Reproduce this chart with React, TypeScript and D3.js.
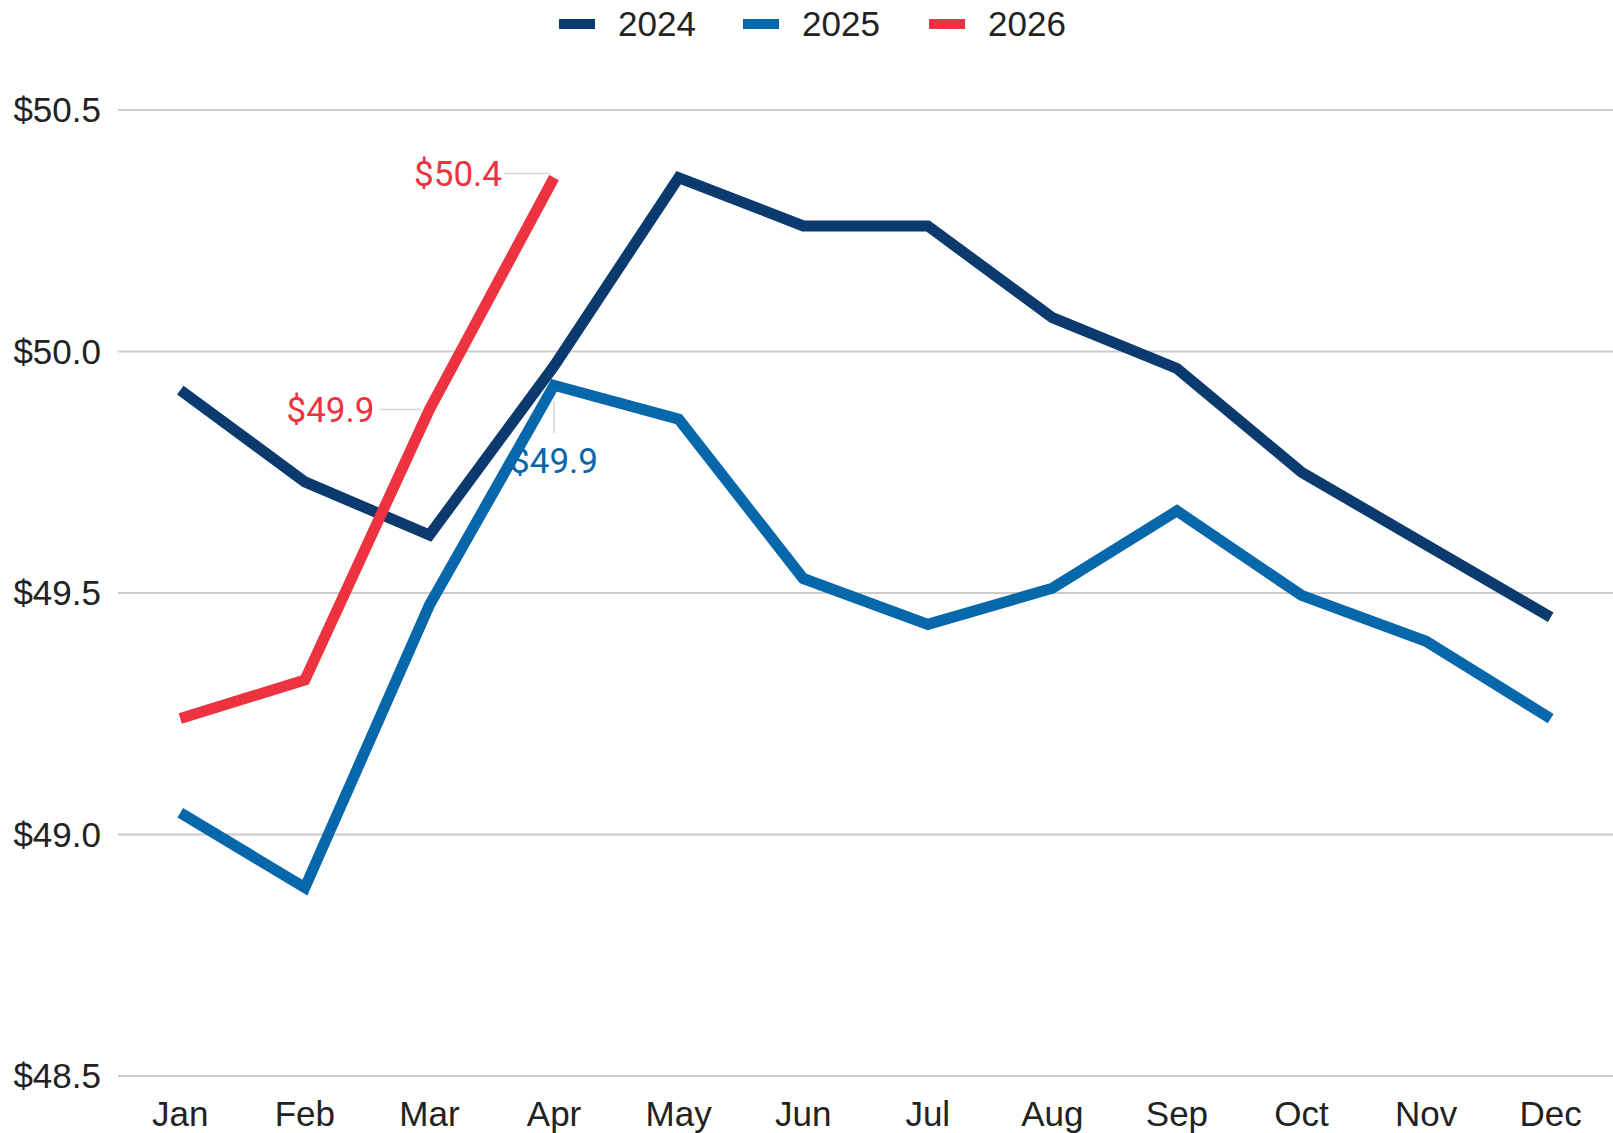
import React from "react";
import * as d3 from "d3";

const months = ["Jan", "Feb", "Mar", "Apr", "May", "Jun", "Jul", "Aug", "Sep", "Oct", "Nov", "Dec"];
const v2024 = [49.92, 49.73, 49.62, 49.97, 50.36, 50.26, 50.26, 50.07, 49.965, 49.75, 49.6, 49.45];
const v2025 = [49.045, 48.89, 49.475, 49.93, 49.86, 49.53, 49.435, 49.51, 49.67, 49.495, 49.4, 49.24];
const v2026 = [49.24, 49.32, 49.88, 50.36];
const yTicks = [48.5, 49.0, 49.5, 50.0, 50.5];
const seriesNames = ["2024", "2025", "2026"];
const seriesColors = ["#0a3a6e", "#0767ab", "#ee3340"];

const W = 1613;
const H = 1133;

export default function App() {
  const x = d3.scalePoint<string>().domain(months).range([118, 1613]).padding(0.5);
  const y = d3.scaleLinear().domain([48.5, 50.5]).range([1076, 110]);
  const line = d3
    .line<number>()
    .x((_, i) => x(months[i]) as number)
    .y((d) => y(d));
  const series = [v2024, v2025, v2026];

  const legendX = [559, 743, 929];

  const p26Apr = { x: x("Apr") as number, y: y(v2026[3]) };
  const p26Mar = { x: x("Mar") as number, y: y(v2026[2]) };
  const p25Apr = { x: x("Apr") as number, y: y(v2025[3]) };

  const axisFont = "Arial, 'Liberation Sans', sans-serif";
  const labelFont = "Roboto, 'Noto Sans', sans-serif";

  return (
    <svg
      width={W}
      height={H}
      style={{ position: "absolute", left: 0, top: 0, background: "#fff" }}
    >
      <rect width={W} height={H} fill="#fff" />
      {yTicks.map((t) => (
        <g key={t}>
          <line x1={118} x2={1613} y1={y(t)} y2={y(t)} stroke="#cccccc" strokeWidth={2} />
          <text
            x={101}
            y={y(t)}
            dy="0.35em"
            textAnchor="end"
            fontFamily={axisFont}
            fontSize={35}
            fill="#222"
          >
            {"$" + d3.format(".1f")(t)}
          </text>
        </g>
      ))}
      {months.map((m) => (
        <text
          key={m}
          x={x(m) as number}
          y={1126}
          textAnchor="middle"
          fontFamily={axisFont}
          fontSize={35}
          fill="#222"
        >
          {m}
        </text>
      ))}
      {/* leader lines */}
      <line x1={p26Apr.x - 50} x2={p26Apr.x - 4} y1={p26Apr.y - 4} y2={p26Apr.y - 4} stroke="#d6d6d6" strokeWidth={1.5} />
      <line x1={p26Mar.x - 50} x2={p26Mar.x - 8} y1={p26Mar.y} y2={p26Mar.y} stroke="#d6d6d6" strokeWidth={1.5} />
      <line x1={p25Apr.x} x2={p25Apr.x} y1={p25Apr.y + 16} y2={p25Apr.y + 48} stroke="#d6d6d6" strokeWidth={1.5} />
      {series.map((s, i) => (
        <path
          key={i}
          d={line(s) || ""}
          fill="none"
          stroke={seriesColors[i]}
          strokeWidth={11}
          strokeLinejoin="miter"
        />
      ))}
      {/* data labels */}
      <text x={p26Apr.x - 52} y={p26Apr.y - 4} dy="0.35em" textAnchor="end" fontFamily={labelFont} fontSize={35} fill={seriesColors[2]}>
        {"$" + d3.format(".1f")(v2026[3])}
      </text>
      <text x={p26Mar.x - 55} y={p26Mar.y} dy="0.35em" textAnchor="end" fontFamily={labelFont} fontSize={35} fill={seriesColors[2]}>
        {"$" + d3.format(".1f")(v2026[2])}
      </text>
      <text x={p25Apr.x} y={p25Apr.y + 75} dy="0.35em" textAnchor="middle" fontFamily={labelFont} fontSize={35} fill={seriesColors[1]}>
        {"$" + d3.format(".1f")(v2025[3])}
      </text>
      {/* legend */}
      {seriesNames.map((n, i) => (
        <g key={n}>
          <rect x={legendX[i]} y={19} width={36} height={10} fill={seriesColors[i]} />
          <text x={legendX[i] + 59} y={24} dy="0.35em" fontFamily={axisFont} fontSize={35} fill="#222">
            {n}
          </text>
        </g>
      ))}
    </svg>
  );
}
